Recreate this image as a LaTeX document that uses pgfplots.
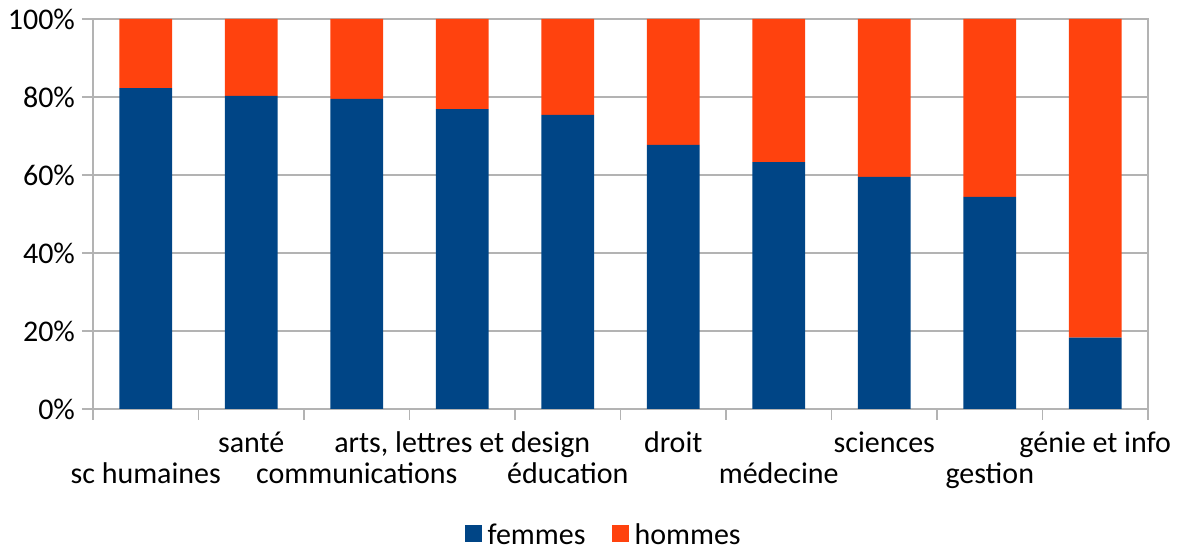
\documentclass[border=0pt]{standalone}
\usepackage{fontspec}
\setmainfont{Carlito}
\usepackage{pgfplots}
\pgfplotsset{compat=1.18}
\definecolor{fem}{HTML}{004586}
\definecolor{hom}{HTML}{FF420E}
\definecolor{gridgray}{HTML}{B3B3B3}

\begin{document}
\begin{tikzpicture}
\useasboundingbox (-46.5pt,-70.5pt) rectangle (542.5pt,204.5pt);
\begin{axis}[
    at={(0,0)}, anchor=south west,
    width=527.5pt, height=195pt, scale only axis,
    ybar stacked, bar width=0.5,
    xmin=-0.5, xmax=9.5, ymin=0, ymax=100,
    xtick={-0.5,0.5,1.5,2.5,3.5,4.5,5.5,6.5,7.5,8.5,9.5},
    x tick label as interval,
    xticklabels={{\strut\\sc humaines},{\strut santé},{\strut\\communications},{\strut arts, lettres et design},{\strut\\éducation},{\strut droit},{\strut\\médecine},{\strut sciences},{\strut\\gestion},{\strut génie et info},{}},
    xticklabel style={align=center, anchor=north, yshift=-2pt},
    ytick={0,20,40,60,80,100},
    yticklabels={0\%,20\%,40\%,60\%,80\%,100\%},
    ymajorgrids=true,
    grid style={gridgray, line width=0.6pt},
    axis line style={gridgray, line width=0.6pt},
    tick style={gridgray, line width=0.6pt},
    major tick length=5.5pt,
    tick align=outside,
    xtick pos=lower, ytick pos=left,
    tick label style={font=\fontsize{15}{15.5}\selectfont, black},
    legend style={at={(0.485,-0.325)}, anchor=center, legend columns=2, draw=none,
        inner sep=0pt, nodes={inner ysep=1pt},
        font=\fontsize{15}{15.5}\selectfont,
        /tikz/every odd column/.append style={column sep=1pt},
        /tikz/every even column/.append style={column sep=11pt}},
]
\addplot[fill=fem, draw=none, legend image code/.code={\fill[fem] (0pt,-3pt) rectangle (8.5pt,5.5pt);}]
    coordinates {(0,82.3)(1,80.3)(2,79.5)(3,76.9)(4,75.4)(5,67.7)(6,63.3)(7,59.5)(8,54.4)(9,18.3)};
\addlegendentry{femmes}
\addplot[fill=hom, draw=none, legend image code/.code={\fill[hom] (0pt,-3pt) rectangle (8.5pt,5.5pt);}]
    coordinates {(0,17.7)(1,19.7)(2,20.5)(3,23.1)(4,24.6)(5,32.3)(6,36.7)(7,40.5)(8,45.6)(9,81.7)};
\addlegendentry{hommes}
\end{axis}
\end{tikzpicture}
\end{document}
